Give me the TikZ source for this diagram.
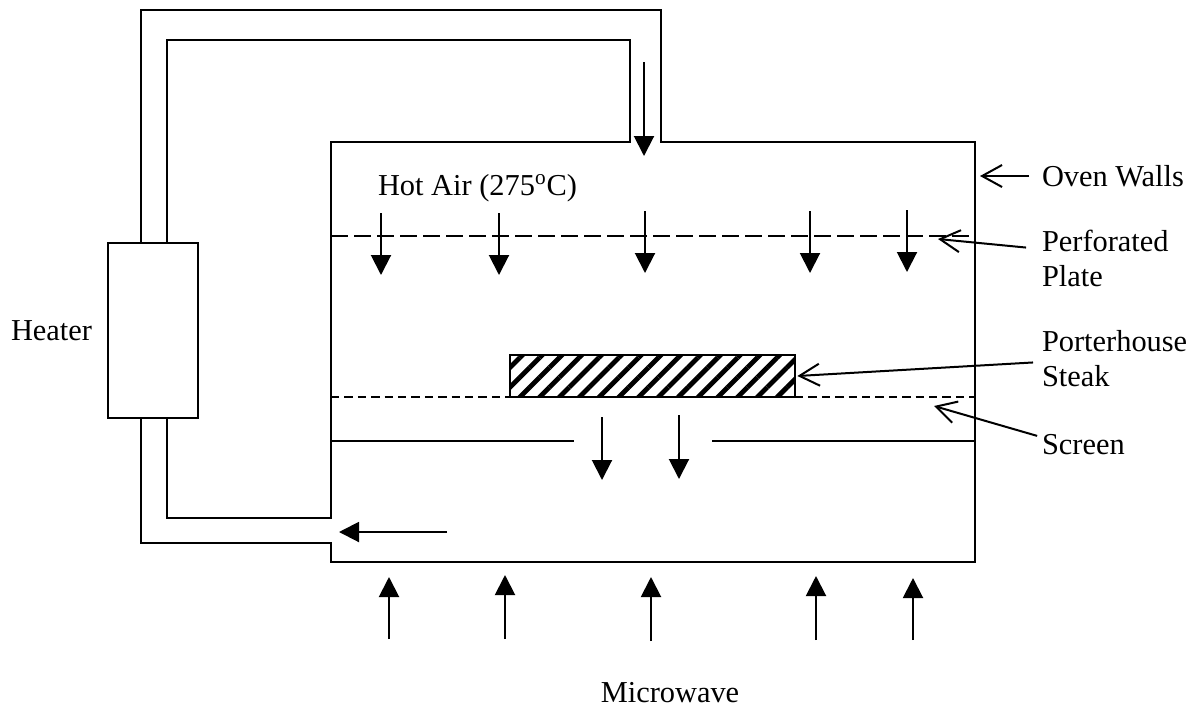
\documentclass[tikz,border=0pt]{standalone}
\usepackage{fontspec}
\setmainfont{Liberation Serif}
\usetikzlibrary{arrows.meta,patterns.meta}
\begin{document}
\begin{tikzpicture}[x=0.5pt,y=-0.5pt,line width=1pt,>={Triangle[length=10pt,width=10pt]}]
 \tikzstyle{every node}=[font=\fontsize{15.2}{17.5}\selectfont]
 \tikzstyle{caption}=[inner sep=0pt,anchor=west,align=left]
 \tikzstyle{pointer}=[-{Straight Barb[length=10pt,width=11pt,line width=1pt]},shorten <=6pt]
 \useasboundingbox (0,0) rectangle (1199,719);
 \node[draw,minimum width=45pt,minimum height=87.5pt,inner sep=0pt] (heater) at (153,330.5) {};
 \node[caption] (heaterlabel) at (10,331) {Heater};
 \node[caption] (hotair) at (377,188) {Hot Air (275$^{\mathrm{o}}$C)};
 \node[caption] (walls) at (1041,176) {Oven Walls};
 \node[caption] (perforated) at (1041,258) {Perforated\\Plate};
 \node[caption] (steak) at (1041,359) {Porterhouse\\Steak};
 \node[caption] (screen) at (1041,445) {Screen};
 \node[inner sep=0pt] (microwave) at (670,693) {Microwave};
 \draw (141,243) |- (661,10) -- (661,142) -- (975,142) -- (975,562) -- (331,562) -- (331,543) -- (141,543) -- (141,418);
 \draw (167,243) |- (630,40) -- (630,142) -- (331,142) -- (331,518) -- (167,518) -- (167,418);
 \draw[dash pattern=on 8.5pt off 3pt] (331,236) -- (975,236);
 \draw[dash pattern=on 4.2pt off 2.5pt] (331,397) -- (510,397);
 \draw[dash pattern=on 4.2pt off 2.5pt] (795,397) -- (975,397);
 \draw (331,441) -- (574,441);
 \draw (712,441) -- (975,441);
 \node[draw,pattern={Lines[angle=45,distance=7pt,line width=2.4pt]},minimum width=142.5pt,minimum height=21pt,inner sep=0pt] (porterhouse) at (652.5,376) {};
 \foreach \x/\ya/\yb in {644/62/156,381/213/275,499/213/275,645/211/273,810/211/273,907/210/272,602/417/480,679/415/479,389/639/577,505/639/575,651/641/577,816/640/576,913/640/578}
 \draw[->] (\x,\ya) -- (\x,\yb);
 \draw[->] (447,532) -- (339,532);
 \coordinate (wallstip) at (980,176);
 \coordinate (platetip) at (938,239);
 \coordinate (screentip) at (934,406);
 \draw[pointer] (walls.west) -- (wallstip);
 \draw[pointer,shorten <=7.5pt] ([yshift=4.5pt]perforated.west) -- (platetip);
 \draw[pointer,shorten <=4pt] ([yshift=-1.5pt]steak.west) -- (porterhouse.east);
 \draw[pointer,shorten <=2pt] ([yshift=4pt]screen.west) -- (screentip);
\end{tikzpicture}
\end{document}
